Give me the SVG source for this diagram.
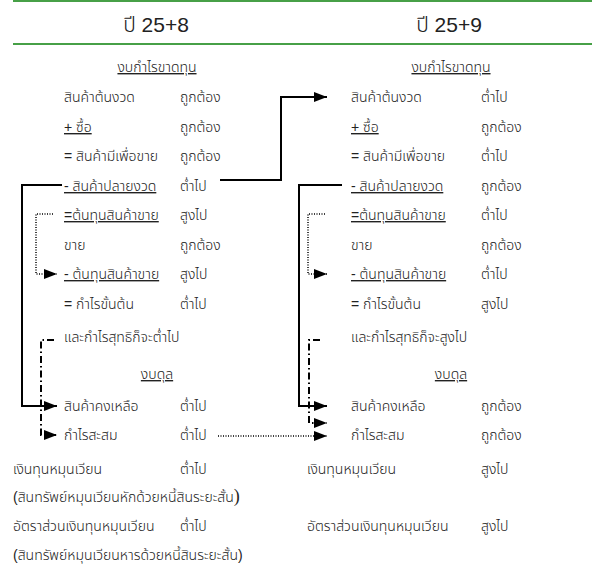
<svg xmlns="http://www.w3.org/2000/svg" width="595" height="571" viewBox="0 0 595 571">
<style>
text{font-family:"Liberation Sans","Noto Sans Thai","Noto Sans",sans-serif;font-size:14px;font-weight:300;fill:#222}
.h{font-size:21px}
.u{text-decoration:underline}
.uu{text-decoration:underline;text-decoration-thickness:2px}
.c{text-anchor:middle}
.rule{stroke:#0a800a;stroke-width:1.5}
.solid{fill:none;stroke:#000;stroke-width:2}
.dot{fill:none;stroke:#000;stroke-width:1.5;stroke-dasharray:1 1.5}
.dd{fill:none;stroke:#000;stroke-width:2;stroke-dasharray:7 3 1.5 3}
</style>
<defs>
<marker id="ah" viewBox="0 0 13 10" refX="13" refY="5" markerWidth="13" markerHeight="10" markerUnits="userSpaceOnUse" orient="auto">
<path d="M0,0 L13,5 L0,10 z" fill="#000"/>
</marker>
</defs>
<rect width="595" height="571" fill="#fff"/>
<g id="header">
<line class="rule" x1="13" y1="1" x2="592" y2="1"/>
<line class="rule" x1="13" y1="44" x2="592" y2="44"/>
<text class="h c" x="156" y="32">ปี 25+8</text>
<text class="h c" x="449" y="32">ปี 25+9</text>
</g>
<g id="year8-income">
<text class="c u" x="157" y="72">งบกำไรขาดทุน</text>
<text x="64" y="102">สินค้าต้นงวด</text><text x="180" y="102">ถูกต้อง</text>
<text x="64" y="132" class="u">+ ซื้อ</text><text x="180" y="132">ถูกต้อง</text>
<text x="64" y="161">= สินค้ามีเพื่อขาย</text><text x="180" y="161">ถูกต้อง</text>
<text x="64" y="191" class="u">- สินค้าปลายงวด</text><text x="180" y="191">ต่ำไป</text>
<text x="64" y="220" class="uu">=ต้นทุนสินค้าขาย</text><text x="180" y="220">สูงไป</text>
<text x="64" y="250">ขาย</text><text x="180" y="250">ถูกต้อง</text>
<text x="64" y="279" class="u">- ต้นทุนสินค้าขาย</text><text x="180" y="279">สูงไป</text>
<text x="64" y="309">= กำไรขั้นต้น</text><text x="180" y="309">ต่ำไป</text>
<text x="64" y="342">และกำไรสุทธิก็จะต่ำไป</text>
</g>
<g id="year8-balance">
<text class="c u" x="157" y="379">งบดุล</text>
<text x="64" y="411">สินค้าคงเหลือ</text><text x="180" y="411">ต่ำไป</text>
<text x="64" y="440">กำไรสะสม</text><text x="180" y="440">ต่ำไป</text>
</g>
<g id="year8-ratios">
<text x="13" y="474">เงินทุนหมุนเวียน</text><text x="180" y="474">ต่ำไป</text>
<text x="13" y="502">(สินทรัพย์หมุนเวียนหักด้วยหนี้สินระยะสั้น<tspan style="font-family:'Liberation Serif',serif;font-size:18px;font-weight:400">)</tspan></text>
<text x="13" y="531">อัตราส่วนเงินทุนหมุนเวียน</text><text x="180" y="531">ต่ำไป</text>
<text x="13" y="560">(สินทรัพย์หมุนเวียนหารด้วยหนี้สินระยะสั้น)</text>
</g>
<g id="year9-income">
<text class="c u" x="451" y="72">งบกำไรขาดทุน</text>
<text x="351" y="102">สินค้าต้นงวด</text><text x="481" y="102">ต่ำไป</text>
<text x="351" y="132" class="u">+ ซื้อ</text><text x="481" y="132">ถูกต้อง</text>
<text x="351" y="161">= สินค้ามีเพื่อขาย</text><text x="481" y="161">ต่ำไป</text>
<text x="351" y="191" class="u">- สินค้าปลายงวด</text><text x="481" y="191">ถูกต้อง</text>
<text x="351" y="220" class="uu">=ต้นทุนสินค้าขาย</text><text x="481" y="220">ต่ำไป</text>
<text x="351" y="250">ขาย</text><text x="481" y="250">ถูกต้อง</text>
<text x="351" y="279" class="u">- ต้นทุนสินค้าขาย</text><text x="481" y="279">ต่ำไป</text>
<text x="351" y="309">= กำไรขั้นต้น</text><text x="481" y="309">สูงไป</text>
<text x="351" y="342">และกำไรสุทธิก็จะสูงไป</text>
</g>
<g id="year9-balance">
<text class="c u" x="451" y="379">งบดุล</text>
<text x="351" y="411">สินค้าคงเหลือ</text><text x="481" y="411">ถูกต้อง</text>
<text x="351" y="440">กำไรสะสม</text><text x="481" y="440">ถูกต้อง</text>
</g>
<g id="year9-ratios">
<text x="307" y="474">เงินทุนหมุนเวียน</text><text x="481" y="474">สูงไป</text>
<text x="307" y="531">อัตราส่วนเงินทุนหมุนเวียน</text><text x="481" y="531">สูงไป</text>
</g>
<g id="connectors">
<path class="solid" d="M220 180 H281 V97 H327" marker-end="url(#ah)"/>
<path class="solid" d="M62 185 H22 V406 H57" marker-end="url(#ah)"/>
<path class="dot" d="M53 214 H36 V274 H57" marker-end="url(#ah)"/>
<path class="dd" d="M54 340 H41 V435 H57" marker-end="url(#ah)"/>
<path class="dot" d="M218 436 H327" marker-end="url(#ah)"/>
<path class="solid" d="M342 185 H299 V406 H327" marker-end="url(#ah)"/>
<path class="dot" d="M325 214 H308 V274 H327" marker-end="url(#ah)"/>
<path class="dd" d="M320 340 H309 V423 H327" marker-end="url(#ah)"/>
</g>
</svg>
